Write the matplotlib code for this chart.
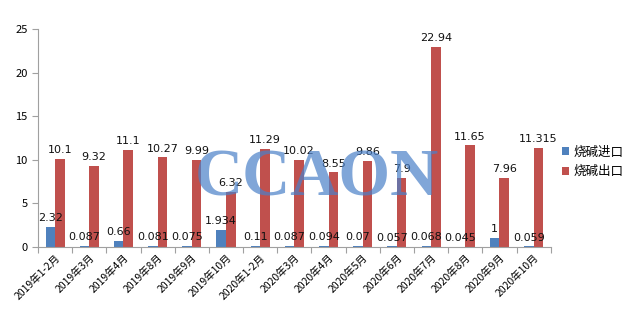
import matplotlib.pyplot as plt
import numpy as np

plt.rcParams['font.family'] = ['Noto Sans CJK SC', 'DejaVu Sans']

categories = ['2019年1-2月', '2019年3月', '2019年4月', '2019年8月', '2019年9月',
              '2019年10月', '2020年1-2月', '2020年3月', '2020年4月', '2020年5月',
              '2020年6月', '2020年7月', '2020年8月', '2020年9月', '2020年10月']
imports = [2.32, 0.087, 0.66, 0.081, 0.075, 1.934, 0.11, 0.087, 0.094, 0.07,
           0.057, 0.068, 0.045, 1, 0.059]
exports = [10.1, 9.32, 11.1, 10.27, 9.99, 6.32, 11.29, 10.02, 8.55, 9.86,
           7.9, 22.94, 11.65, 7.96, 11.315]
import_labels = ['2.32', '0.087', '0.66', '0.081', '0.075', '1.934', '0.11', '0.087',
                 '0.094', '0.07', '0.057', '0.068', '0.045', '1', '0.059']
export_labels = ['10.1', '9.32', '11.1', '10.27', '9.99', '6.32', '11.29', '10.02',
                 '8.55', '9.86', '7.9', '22.94', '11.65', '7.96', '11.315']

blue = '#4f81bd'
red = '#c0504d'

fig = plt.figure(figsize=(6.33, 3.13), dpi=100)
ax = fig.add_axes([0.060, 0.211, 0.810, 0.696])

x = np.arange(len(categories))
w = 0.28
ax.bar(x - w / 2, imports, w, color=blue, label='烧碱进口')
ax.bar(x + w / 2, exports, w, color=red, label='烧碱出口')

for i in range(len(categories)):
    ax.text(x[i] - w / 2, imports[i] + 0.45, import_labels[i], ha='center', va='bottom',
            fontsize=8, color='#111111', family='DejaVu Sans')
    ax.text(x[i] + w / 2, exports[i] + 0.45, export_labels[i], ha='center', va='bottom',
            fontsize=8, color='#111111', family='DejaVu Sans')

ax.set_xlim(-0.5, len(categories) - 0.5)
ax.set_ylim(0, 25)
ax.set_yticks([0, 5, 10, 15, 20, 25])
ax.set_xticks(np.arange(-0.5, len(categories), 1.0), minor=False)
ax.set_xticklabels([])
ax.set_xticks(x, minor=True)
ax.set_xticklabels(categories, minor=True, rotation=45, ha='right', rotation_mode='anchor',
                   fontsize=7.5)
ax.tick_params(axis='x', which='minor', length=0, pad=4)
ax.tick_params(axis='x', which='major', length=4, color='#a0a0a0', direction='out')
ax.tick_params(axis='y', length=4, color='#a0a0a0', labelsize=8)

for s in ['top', 'right']:
    ax.spines[s].set_visible(False)
for s in ['left', 'bottom']:
    ax.spines[s].set_color('#a0a0a0')

fig.text(0.50, 0.428, 'CCAON', fontsize=48, family='Liberation Serif', fontweight='bold',
         color='#4a80c8', alpha=0.7, ha='center', va='center')

ax.legend(loc='center left', bbox_to_anchor=(1.0, 0.39), frameon=False, fontsize=9,
          handlelength=0.6, handleheight=0.6, handletextpad=0.3, labelspacing=0.5)

fig.savefig('out.png', dpi=100)
